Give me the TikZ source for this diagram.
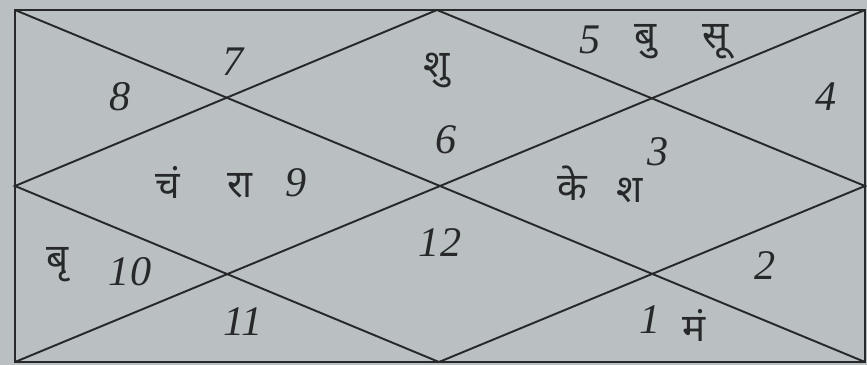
\documentclass[tikz,border=0pt]{standalone}
\usepackage{fontspec}
\newfontfamily\deva[Script=Devanagari]{Noto Sans}
\newfontfamily\numfont{Liberation Serif}
\definecolor{chartbg}{RGB}{186,192,194}
\definecolor{chartink}{RGB}{38,40,42}

\tikzset{
  chartline/.style={draw=chartink, line width=1.1pt},
  housenum/.style={font=\fontsize{24}{27}\selectfont\numfont\itshape, text=chartink, inner sep=0pt},
  graha/.style={font=\fontsize{22}{26}\selectfont\deva, text=chartink, inner sep=0pt}
}

\begin{document}
\begin{tikzpicture}[x=0.02cm, y=-0.02cm]

% Paper
\fill[chartbg] (0,0) rectangle (867,365);
\useasboundingbox (0,0) rectangle (867,365);

% Corners and mid points of the chart
\coordinate (nw) at (15,10);
\coordinate (ne) at (865,10);
\coordinate (se) at (865,362);
\coordinate (sw) at (15,362);
\coordinate (tm) at (437,10);
\coordinate (rm) at (865,186);
\coordinate (bm) at (439,362);
\coordinate (lm) at (15,186);

% Frame
\draw[chartline] (nw) rectangle (se);

% Diagonals
\draw[chartline] (nw)--(se);
\draw[chartline] (ne)--(sw);

% Diamond
\draw[chartline] (tm)--(rm)--(bm)--(lm)--cycle;

% House numbers
\foreach \n/\x/\y in {1/650/320, 2/765/266, 3/658/152, 4/826/97,
                      5/590/40, 6/446/140, 7/233/62, 8/120/97,
                      9/296/183, 10/130/272, 11/243/322, 12/440/243}
  \node[housenum] (h\n) at (\x,\y) {\n};

% Planets
\node[graha] (shu)  at (437,70)  {शु};
\node[graha] (bu)   at (646,42)  {बु};
\node[graha] (su)   at (716,42)  {सू};
\node[graha] (chan) at (168,182) {चं};
\node[graha] (ra)   at (240,186) {रा};
\node[graha] (ke)   at (572,183) {के};
\node[graha] (sha)  at (630,190) {श};
\node[graha] (bri)  at (58,265)  {बृ};
\node[graha] (man)  at (694,325) {मं};

\end{tikzpicture}
\end{document}
